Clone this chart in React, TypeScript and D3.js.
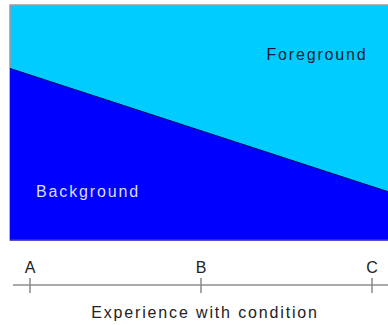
import React from "react";
import * as d3 from "d3";

const categories = ["A", "B", "C"];
// Share of the background at the left and right edges of the plot
const backgroundShareEdges = [0.73, 0.2];
const areaLabels = ["Foreground", "Background"];
const axisTitle = "Experience with condition";

const W = 388;
const H = 325;
const plot = { left: 10, top: 5, right: 392, bottom: 240 };

export default function App() {
  const xEdge = d3.scaleLinear().domain([0, 1]).range([plot.left, plot.right]);
  const y = d3.scaleLinear().domain([0, 1]).range([plot.bottom, plot.top]);
  const xCat = d3.scalePoint().domain(categories).range([30, 372]);

  const pts = backgroundShareEdges.map((v, i) => ({ x: i, v }));
  const bgArea = d3
    .area<{ x: number; v: number }>()
    .x((d) => xEdge(d.x))
    .y0(y(0))
    .y1((d) => y(d.v))(pts);
  const edgeLine = d3
    .line<{ x: number; v: number }>()
    .x((d) => xEdge(d.x))
    .y((d) => y(d.v))(pts);

  const font = "'Liberation Sans', Arial, sans-serif";
  const axisY = 285;

  return (
    <svg
      width={W}
      height={H}
      style={{ position: "absolute", left: 0, top: 0, background: "#fff" }}
    >
      <rect
        x={plot.left}
        y={plot.top}
        width={plot.right - plot.left}
        height={plot.bottom - plot.top}
        fill="#00ccff"
        stroke="#9a9a9a"
        strokeWidth={1.5}
      />
      <path d={bgArea || ""} fill="#0000ff" />
      <path d={edgeLine || ""} fill="none" stroke="#000066" strokeWidth={1} />
      <line
        x1={plot.left}
        x2={plot.right}
        y1={plot.bottom}
        y2={plot.bottom}
        stroke="#3333cc"
        strokeWidth={1.5}
      />
      <text
        x={317}
        y={60}
        textAnchor="middle"
        fontFamily={font}
        fontSize={16}
        letterSpacing={1.85}
        fill="#1a1a33"
      >
        {areaLabels[0]}
      </text>
      <text
        x={88}
        y={197}
        textAnchor="middle"
        fontFamily={font}
        fontSize={16}
        letterSpacing={1.85}
        fill="#dcdcff"
      >
        {areaLabels[1]}
      </text>
      <line x1={13} x2={W} y1={axisY} y2={axisY} stroke="#aaaaaa" strokeWidth={2} />
      {categories.map((c) => (
        <g key={c}>
          <line
            x1={xCat(c)}
            x2={xCat(c)}
            y1={278}
            y2={293}
            stroke="#888888"
            strokeWidth={1.5}
          />
          <text
            x={xCat(c)}
            y={273}
            textAnchor="middle"
            fontFamily={font}
            fontSize={16}
            fill="#222222"
          >
            {c}
          </text>
        </g>
      ))}
      <text
        x={205}
        y={318}
        textAnchor="middle"
        fontFamily={font}
        fontSize={16}
        letterSpacing={1.85}
        fill="#222222"
      >
        {axisTitle}
      </text>
    </svg>
  );
}
